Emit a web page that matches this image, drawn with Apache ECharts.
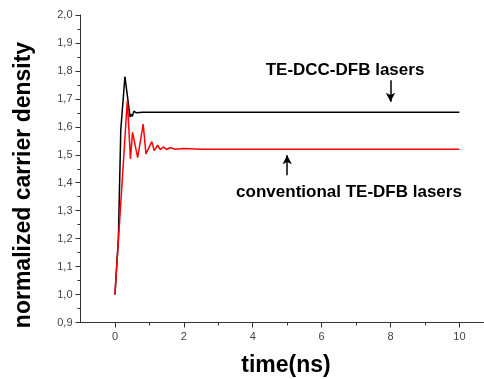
<!DOCTYPE html>
<html>
<head>
<meta charset="utf-8">
<script src="https://cdn.jsdelivr.net/npm/echarts@6/dist/echarts.min.js"></script>
<style>
  html, body { margin: 0; padding: 0; background: #fff; }
  #chart { width: 484px; height: 379px; }
</style>
</head>
<body>
<div id="chart"></div>
<script>
// time (ns) / normalized carrier density
const dccPoints = [
  [0, 1.0], [0.1, 1.2], [0.17, 1.59], [0.29, 1.78], [0.44, 1.635],
  [0.47, 1.645], [0.5, 1.637], [0.55, 1.656], [0.62, 1.65], [0.8, 1.652], [10, 1.652]
];
const convPoints = [
  [0, 1.0], [0.36, 1.695], [0.45, 1.485], [0.51, 1.58], [0.66, 1.49],
  [0.82, 1.61], [0.9, 1.503], [1.07, 1.547], [1.14, 1.515], [1.24, 1.534],
  [1.32, 1.518], [1.4, 1.528], [1.5, 1.519], [1.6, 1.525], [1.75, 1.52],
  [2, 1.522], [2.5, 1.52], [10, 1.52]
];
const xMajorTicks = [0, 2, 4, 6, 8, 10];
const xMinorTicks = [1, 3, 5, 7, 9];
// arrows: [x, from y, to y]
const dccArrow = [8, 1.767, 1.69];
const convArrow = [5, 1.427, 1.498];

const chart = echarts.init(document.getElementById('chart'));

const axisColor = '#333';
const font = '"Liberation Sans", Arial, sans-serif';

chart.setOption({
  animation: false,
  grid: { left: 80.5, right: 0.5, top: 15, bottom: 56.5 },
  xAxis: [
    {
      type: 'value', min: -1, max: 10.7,
      axisLine: { onZero: false, lineStyle: { color: axisColor, width: 1 } },
      axisTick: { customValues: xMajorTicks, length: 5, lineStyle: { color: axisColor } },
      axisLabel: {
        customValues: xMajorTicks, margin: 9,
        color: '#444', fontSize: 11, fontFamily: font
      },
      splitLine: { show: false }
    },
    {
      type: 'value', min: -1, max: 10.7, position: 'bottom',
      axisLine: { show: false, onZero: false },
      axisTick: { customValues: xMinorTicks, length: 3, lineStyle: { color: axisColor } },
      axisLabel: { show: false },
      splitLine: { show: false }
    }
  ],
  yAxis: {
    type: 'value', min: 0.9, max: 2.0, interval: 0.1,
    axisLine: { show: true, onZero: false, lineStyle: { color: axisColor, width: 1 } },
    axisTick: { show: true, length: 5, lineStyle: { color: axisColor } },
    minorTick: { show: true, splitNumber: 2, length: 3, lineStyle: { color: axisColor } },
    axisLabel: {
      margin: 8, color: '#444', fontSize: 11, fontFamily: font,
      formatter: v => v.toFixed(1).replace('.', ',')
    },
    splitLine: { show: false }
  },
  series: [
    {
      name: 'TE-DCC-DFB lasers', type: 'line', data: dccPoints,
      showSymbol: false, lineStyle: { color: '#000', width: 1.5 },
      markLine: {
        silent: true, symbol: ['none', 'arrow'], symbolSize: [7, 9],
        label: { show: false },
        lineStyle: { color: '#000', width: 1.5, type: 'solid' },
        data: [[
          { coord: [dccArrow[0], dccArrow[1]] },
          { coord: [dccArrow[0], dccArrow[2]] }
        ]]
      }
    },
    {
      name: 'conventional TE-DFB lasers', type: 'line', data: convPoints,
      showSymbol: false, lineStyle: { color: '#ff0000', width: 1.5 },
      markLine: {
        silent: true, symbol: ['none', 'arrow'], symbolSize: [7, 9],
        label: { show: false },
        lineStyle: { color: '#000', width: 1.5, type: 'solid' },
        data: [[
          { coord: [convArrow[0], convArrow[1]] },
          { coord: [convArrow[0], convArrow[2]] }
        ]]
      }
    }
  ],
  graphic: [
    {
      type: 'text', x: 24, y: 185, rotation: Math.PI / 2,
      style: {
        text: 'normalized carrier density', fill: '#000',
        font: 'bold 23px ' + font, align: 'center', verticalAlign: 'middle'
      }
    },
    {
      type: 'text', x: 286, y: 366,
      style: {
        text: 'time(ns)', fill: '#000',
        font: 'bold 23px ' + font, align: 'center', verticalAlign: 'middle'
      }
    },
    {
      type: 'text', x: 345, y: 70,
      style: {
        text: 'TE-DCC-DFB lasers', fill: '#000',
        font: 'bold 17px ' + font, align: 'center', verticalAlign: 'middle'
      }
    },
    {
      type: 'text', x: 349, y: 192,
      style: {
        text: 'conventional TE-DFB lasers', fill: '#000',
        font: 'bold 17px ' + font, align: 'center', verticalAlign: 'middle'
      }
    }
  ]
});
</script>
</body>
</html>
